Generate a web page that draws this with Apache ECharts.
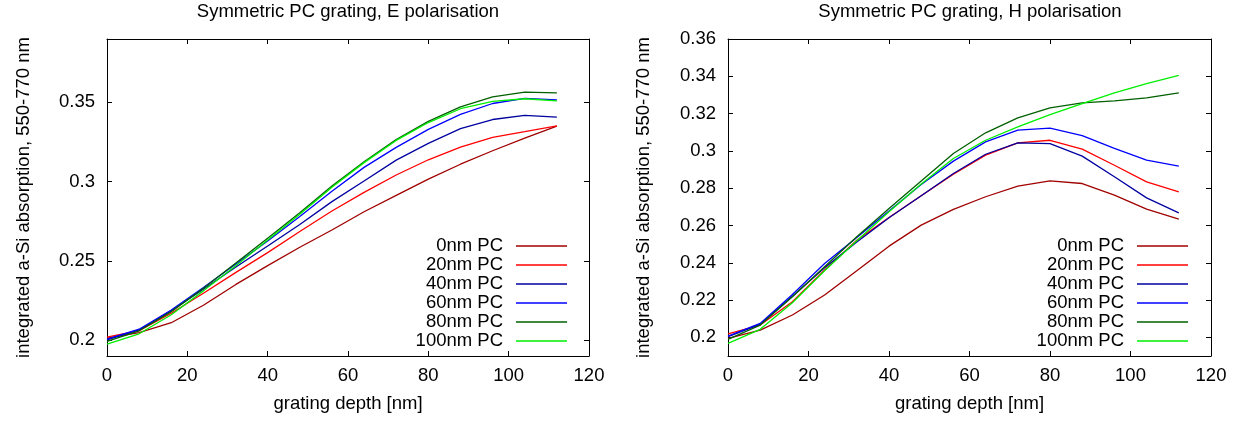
<!DOCTYPE html>
<html>
<head>
<meta charset="utf-8">
<script src="https://cdn.jsdelivr.net/npm/echarts@6/dist/echarts.min.js"></script>
<style>
html,body{margin:0;padding:0;background:#fff;}
#chart{width:1250px;height:423px;}
</style>
</head>
<body>
<div id="chart"></div>
<script>
// ---- data ----
const depths = [0, 8, 16, 24, 32, 40, 48, 56, 64, 72, 80, 88, 96, 104, 112];
const seriesNames = ['0nm PC', '20nm PC', '40nm PC', '60nm PC', '80nm PC', '100nm PC'];

const E_0nm   = [0.2013, 0.2048, 0.2110, 0.2220, 0.2350, 0.2470, 0.2586, 0.2695, 0.2810, 0.2913, 0.3016, 0.3110, 0.3195, 0.3275, 0.3350];
const E_20nm  = [0.2019, 0.2060, 0.2170, 0.2296, 0.2426, 0.2552, 0.2685, 0.2815, 0.2932, 0.3042, 0.3138, 0.3218, 0.3279, 0.3315, 0.3352];
const E_40nm  = [0.2002, 0.2065, 0.2185, 0.2321, 0.2460, 0.2594, 0.2730, 0.2874, 0.3004, 0.3136, 0.3241, 0.3334, 0.3392, 0.3418, 0.3407];
const E_60nm  = [0.2006, 0.2069, 0.2190, 0.2332, 0.2479, 0.2626, 0.2780, 0.2940, 0.3090, 0.3216, 0.3330, 0.3424, 0.3493, 0.3525, 0.3516];
const E_80nm  = [0.1992, 0.2059, 0.2180, 0.2328, 0.2485, 0.2643, 0.2804, 0.2972, 0.3126, 0.3266, 0.3380, 0.3472, 0.3535, 0.3565, 0.3560];
const E_100nm = [0.1975, 0.2040, 0.2160, 0.2311, 0.2468, 0.2632, 0.2794, 0.2964, 0.3120, 0.3260, 0.3373, 0.3460, 0.3506, 0.3523, 0.3510];

const H_0nm   = [0.1995, 0.2039, 0.2120, 0.2227, 0.2357, 0.2489, 0.2602, 0.2686, 0.2754, 0.2811, 0.2839, 0.2825, 0.2763, 0.2688, 0.2634];
const H_20nm  = [0.2018, 0.2066, 0.2191, 0.2361, 0.2521, 0.2643, 0.2759, 0.2875, 0.2977, 0.3043, 0.3057, 0.3009, 0.2923, 0.2834, 0.2780];
const H_40nm  = [0.2004, 0.2070, 0.2221, 0.2373, 0.2511, 0.2641, 0.2759, 0.2879, 0.2982, 0.3043, 0.3039, 0.2972, 0.2861, 0.2748, 0.2668];
const H_60nm  = [0.2007, 0.2075, 0.2230, 0.2396, 0.2536, 0.2677, 0.2820, 0.2945, 0.3048, 0.3111, 0.3122, 0.3082, 0.3013, 0.2950, 0.2918];
const H_80nm  = [0.1989, 0.2066, 0.2218, 0.2379, 0.2539, 0.2691, 0.2839, 0.2986, 0.3097, 0.3177, 0.3231, 0.3257, 0.3268, 0.3284, 0.3311];
const H_100nm = [0.1968, 0.2043, 0.2186, 0.2357, 0.2518, 0.2673, 0.2822, 0.2959, 0.3057, 0.3129, 0.3195, 0.3254, 0.3311, 0.3361, 0.3405];

const xTicks = [0, 20, 40, 60, 80, 100, 120];
const yTicksE = [0.2, 0.25, 0.3, 0.35];
const yTicksH = [0.2, 0.22, 0.24, 0.26, 0.28, 0.3, 0.32, 0.34, 0.36];

const titleE = 'Symmetric PC grating, E polarisation';
const titleH = 'Symmetric PC grating, H polarisation';
const yName = 'integrated a-Si absorption, 550-770 nm';
const xName = 'grating depth [nm]';

// ---- style ----
const colors = ['#a00000', '#ff0000', '#0000a0', '#0000ff', '#006000', '#00ee00'];
const FONT = "'Liberation Sans', Arial, sans-serif";
const FS = 18.5;

const seriesE = [E_0nm, E_20nm, E_40nm, E_60nm, E_80nm, E_100nm];
const seriesH = [H_0nm, H_20nm, H_40nm, H_60nm, H_80nm, H_100nm];

function pairs(vals) { return depths.map((d, i) => [d, vals[i]]); }

function xAx(gi, pos) {
  return {
    type: 'value', gridIndex: gi, position: pos, min: 0, max: 120, interval: 20,
    name: pos === 'bottom' ? xName : '', nameLocation: 'middle', nameGap: 38,
    nameTextStyle: { fontFamily: FONT, fontSize: FS, color: '#000' },
    axisLine: { show: true, onZero: false, lineStyle: { color: '#000', width: 1 } },
    axisTick: { show: true, inside: true, length: 5, lineStyle: { color: '#000' } },
    axisLabel: { show: pos === 'bottom', margin: 10, fontFamily: FONT, fontSize: FS, color: '#000' },
    splitLine: { show: false }
  };
}
function yAx(gi, pos, min, max, ticks, gap) {
  return {
    type: 'value', gridIndex: gi, position: pos, min: min, max: max,
    name: pos === 'left' ? yName : '', nameLocation: 'middle', nameGap: gap,
    nameTextStyle: { fontFamily: FONT, fontSize: FS, color: '#000' },
    axisLine: { show: true, onZero: false, lineStyle: { color: '#000', width: 1 } },
    axisTick: { show: true, inside: true, length: 5, customValues: ticks, lineStyle: { color: '#000' } },
    axisLabel: { show: pos === 'left', margin: 12, customValues: ticks, fontFamily: FONT, fontSize: FS, color: '#000' },
    splitLine: { show: false }
  };
}
function mkSeries(arrs, axi) {
  return arrs.map((a, i) => ({
    name: seriesNames[i], type: 'line', xAxisIndex: axi, yAxisIndex: axi,
    data: pairs(a), symbol: 'none', showSymbol: false,
    lineStyle: { color: colors[i], width: 1.3 }, itemStyle: { color: colors[i] },
    silent: true
  }));
}
function mkLegend(right) {
  return {
    orient: 'vertical', right: right, top: 236.5, padding: 0, itemGap: 0,
    align: 'right', icon: 'rect', itemWidth: 51, itemHeight: 1.5,
    data: seriesNames,
    textStyle: { fontFamily: FONT, fontSize: FS, color: '#000', lineHeight: 19, padding: [0, 8, 0, 0] },
    selectedMode: false
  };
}

const chart = echarts.init(document.getElementById('chart'), null, { renderer: 'canvas' });
chart.setOption({
  animation: false,
  backgroundColor: '#fff',
  color: colors,
  title: [
    { text: titleE, left: 348, top: 2, textAlign: 'center', padding: 0,
      textStyle: { fontFamily: FONT, fontSize: FS, fontWeight: 'normal', color: '#000' } },
    { text: titleH, left: 970, top: 2, textAlign: 'center', padding: 0,
      textStyle: { fontFamily: FONT, fontSize: FS, fontWeight: 'normal', color: '#000' } }
  ],
  grid: [
    { left: 107, right: 661, top: 39, bottom: 67 },
    { left: 728, right: 39, top: 39, bottom: 67 }
  ],
  xAxis: [xAx(0, 'bottom'), xAx(0, 'top'), xAx(1, 'bottom'), xAx(1, 'top')],
  yAxis: [
    yAx(0, 'left', 0.19, 0.39, yTicksE, 74), yAx(0, 'right', 0.19, 0.39, yTicksE, 74),
    yAx(1, 'left', 0.19, 0.36, yTicksH, 75), yAx(1, 'right', 0.19, 0.36, yTicksH, 75)
  ],
  legend: [mkLegend(683), mkLegend(62)],
  series: mkSeries(seriesE, 0).concat(mkSeries(seriesH, 2))
});
</script>
</body>
</html>
